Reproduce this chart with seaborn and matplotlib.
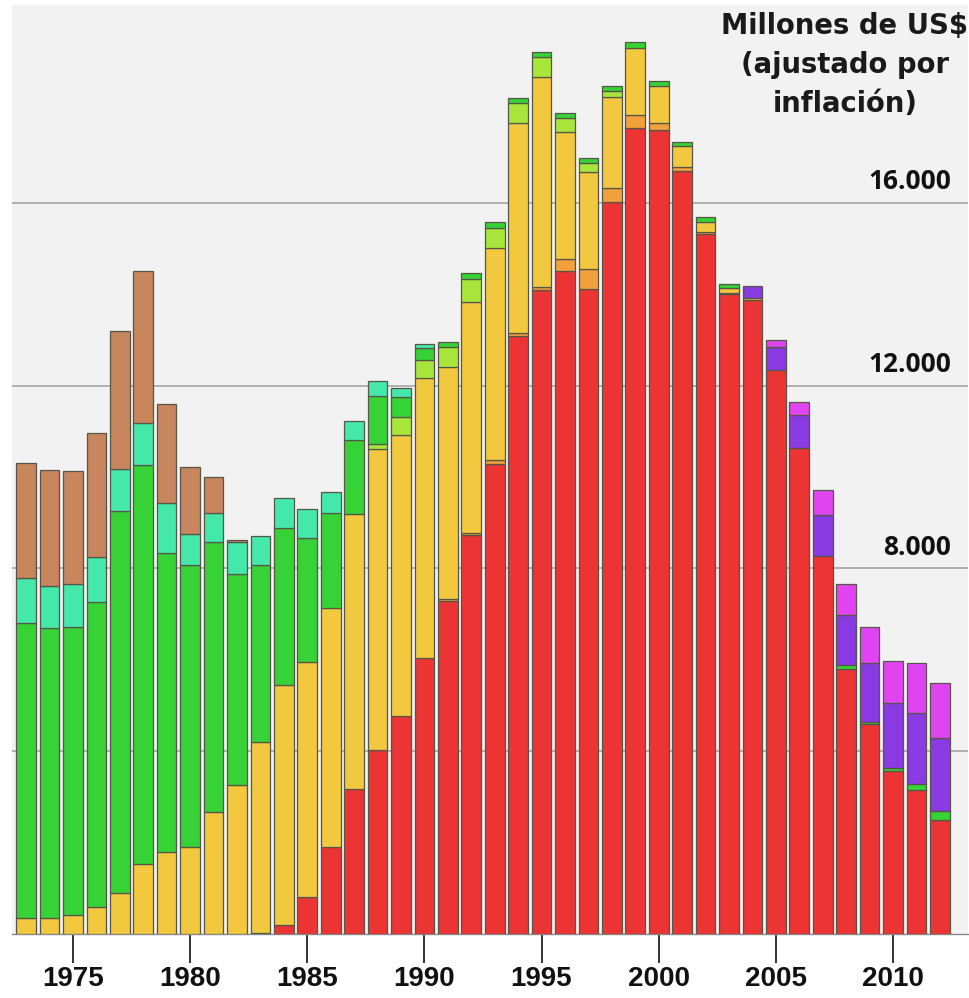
import numpy as np
import pandas as pd
import matplotlib
matplotlib.use("Agg")
import matplotlib.pyplot as plt
import matplotlib.transforms as mtransforms
import seaborn as sns

# ---------------- data (millones de US$) ----------------
years = list(range(1973, 2013))

red = [0, 0, 0, 0, 0, 0, 0, 0, 0, 0,
       30, 197, 810, 1904, 3174, 4028, 4772, 6042, 7289, 8734,
       10288, 13090, 14097, 14513, 14119, 16023, 17643, 17600, 16702, 15323,
       14010, 13878, 12346, 10639, 8274, 5801, 4597, 3568, 3152, 2495]

orange = [0, 0, 0, 0, 0, 0, 0, 0, 0, 0,
          0, 0, 0, 0, 0, 0, 0, 0, 50, 50,
          88, 66, 66, 263, 438, 307, 285, 153, 88, 44,
          22, 0, 0, 0, 0, 0, 0, 0, 0, 0]

yellow = [350, 350, 416, 591, 897, 1532, 1795, 1904, 2671, 3262,
          4173, 5254, 5144, 5232, 6020, 6589, 6151, 6129, 5073, 5050,
          4641, 4597, 4597, 2780, 2123, 1992, 1467, 810, 459, 219,
          109, 44, 0, 0, 0, 0, 0, 0, 0, 0]

lime = [0, 0, 0, 0, 0, 0, 0, 0, 0, 0,
        0, 0, 0, 0, 0, 109, 394, 394, 438, 504,
        438, 438, 438, 306, 197, 131, 0, 0, 0, 0,
        0, 0, 0, 0, 0, 0, 0, 0, 0, 0]

green = [6458, 6348, 6304, 6677, 8362, 8734, 6545, 6173, 5910, 4618,
         3874, 3436, 2714, 2080, 1620, 1051, 438, 263, 109, 131,
         131, 109, 109, 110, 110, 110, 131, 109, 88, 109,
         88, 0, 0, 0, 0, 88, 44, 66, 131, 197]

teal = [985, 920, 942, 985, 920, 927, 1095, 679, 635, 700,
        635, 657, 635, 459, 416, 328, 197, 87, 0, 0,
        0, 0, 0, 0, 0, 0, 0, 0, 0, 0,
        0, 0, 0, 0, 0, 0, 0, 0, 0, 0]

brown = [2517, 2539, 2480, 2714, 3021, 3305, 2167, 1467, 788, 45,
         0, 0, 0, 0, 0, 0, 0, 0, 0, 0,
         0, 0, 0, 0, 0, 0, 0, 0, 0, 0,
         0, 0, 0, 0, 0, 0, 0, 0, 0, 0]

purple = [0, 0, 0, 0, 0, 0, 0, 0, 0, 0,
          0, 0, 0, 0, 0, 0, 0, 0, 0, 0,
          0, 0, 0, 0, 0, 0, 0, 0, 0, 0,
          0, 263, 503, 722, 898, 1094, 1291, 1423, 1555, 1598]

magenta = [0, 0, 0, 0, 0, 0, 0, 0, 0, 0,
           0, 0, 0, 0, 0, 0, 0, 0, 0, 0,
           0, 0, 0, 0, 0, 0, 0, 0, 0, 0,
           0, 0, 154, 284, 547, 679, 788, 919, 1094, 1204]

tick_years = [1975, 1980, 1985, 1990, 1995, 2000, 2005, 2010]
grid_values = [4000, 8000, 12000, 16000]
label_values = [8000, 12000, 16000]
label_texts = ["8.000", "12.000", "16.000"]
title_text = "Millones de US$\n(ajustado por\ninflación)"

series = [
    (red, "#ec3434"),
    (orange, "#f2a03c"),
    (yellow, "#f2c83e"),
    (lime, "#a9e63c"),
    (green, "#36d236"),
    (teal, "#44e8aa"),
    (brown, "#c8865e"),
    (purple, "#8a3ae2"),
    (magenta, "#e044f0"),
]

# ---------------- figure ----------------
sns.set_theme(style="white")
plt.rcParams["font.family"] = ["DejaVu Sans"]

W, H = 970, 998
fig = plt.figure(figsize=(W / 100, H / 100), dpi=100, facecolor="white")
ax = fig.add_axes([12 / W, 64 / H, 956 / W, 929 / H])
ax.set_facecolor("#f2f2f2")

for gv in grid_values:
    ax.axhline(gv, color="#a6a6a6", lw=1.2, zorder=0.5)

order = [str(y) for y in years]
bottom = np.zeros(len(years))
for vals, col in series:
    v = np.array(vals, dtype=float)
    m = v > 0
    if m.any():
        df = pd.DataFrame({"year": [order[i] for i in range(len(years)) if m[i]],
                           "value": v[m]})
        sns.barplot(data=df, x="year", y="value", order=order,
                    bottom=bottom[m], color=col, saturation=1,
                    width=0.84, edgecolor="#555548", linewidth=0.9,
                    errorbar=None, ax=ax, zorder=3)
    bottom += v

ax.set_xlim(-0.6, 40.2)
ax.set_ylim(0, 20330)

for s in ["top", "right", "left"]:
    ax.spines[s].set_visible(False)
ax.spines["bottom"].set_color("#888888")
ax.spines["bottom"].set_linewidth(1)

ax.set_xticks([years.index(y) for y in tick_years])
ax.set_xticklabels([str(y) for y in tick_years],
                   fontdict={"family": ["Liberation Sans Narrow", "Liberation Sans", "DejaVu Sans"],
                             "weight": "bold", "size": 20})
ax.tick_params(axis="x", direction="out", length=21, width=1.2,
               color="#111111", pad=2, labelcolor="#111111", bottom=True)
ax.set_yticks([])
ax.set_xlabel("")
ax.set_ylabel("")
ax.grid(False)

trans = mtransforms.blended_transform_factory(ax.transAxes, ax.transData)
for val, txt in zip(label_values, label_texts):
    ax.text(0.9825, val + 300, txt, transform=trans, ha="right", va="baseline",
            fontsize=19, fontweight="bold", color="#111111",
            family=["Open Sans", "Liberation Sans", "DejaVu Sans"], zorder=1)

fig.text(845 / W, 1 - 12 / H, title_text, ha="center", va="top",
         fontsize=19.8, fontweight="bold", color="#1a1a1a",
         linespacing=1.5, family=["DejaVu Sans"])

fig.savefig("out.png", dpi=100, facecolor="white")
